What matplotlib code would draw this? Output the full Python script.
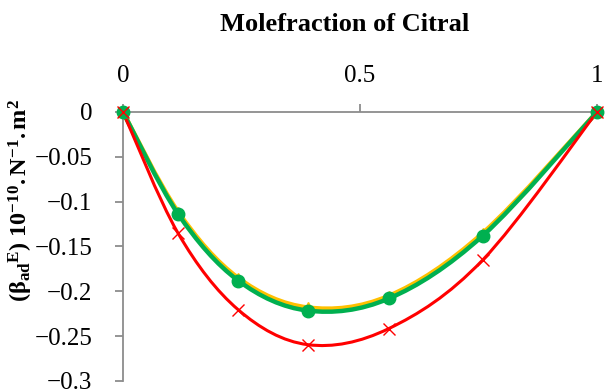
import numpy as np
import matplotlib
matplotlib.use("Agg")
from matplotlib import pyplot as plt
from matplotlib.path import Path
from matplotlib.patches import PathPatch

plt.rcParams["font.family"] = "Liberation Serif"
plt.rcParams["mathtext.fontset"] = "custom"
plt.rcParams["mathtext.rm"] = "Liberation Serif"
plt.rcParams["mathtext.bf"] = "Liberation Serif:bold"
plt.rcParams["mathtext.it"] = "Liberation Serif:italic"

# mole fraction of citral
x_frac = [0.0, 0.116, 0.243, 0.390, 0.561, 0.759, 1.0]

# excess adiabatic compressibility, three temperatures
beta_yellow = [0.0, -0.111, -0.185, -0.218, -0.205, -0.135, 0.0]
beta_green = [0.0, -0.1135, -0.188, -0.2215, -0.208, -0.138, 0.0]
beta_red = [0.0, -0.135, -0.2205, -0.2595, -0.2415, -0.165, 0.0]

x_ticks = [0, 0.5, 1]
x_tick_labels = ["0", "0.5", "1"]
y_ticks = [0, -0.05, -0.1, -0.15, -0.2, -0.25, -0.3]
y_tick_labels = ["0", "\u22120.05", "\u22120.1", "\u22120.15", "\u22120.2",
                 "\u22120.25", "\u22120.3"]


def smooth_path(xs, ys):
    # bezier segments through every point, like a spreadsheet's smoothed line
    p = np.column_stack([xs, ys])
    n = len(p)
    verts = [p[0]]
    codes = [Path.MOVETO]
    for i in range(n - 1):
        p0 = p[i - 1] if i > 0 else p[i]
        p3 = p[i + 2] if i + 2 < n else p[i + 1]
        c1 = p[i] + (p[i + 1] - p0) / 6.0
        c2 = p[i + 1] - (p3 - p[i]) / 6.0
        verts += [c1, c2, p[i + 1]]
        codes += [Path.CURVE4] * 3
    return Path(verts, codes)


fig = plt.figure(figsize=(6.07, 3.89), dpi=100)
ax = fig.add_axes([0.2026, 0.0206, 0.7809, 0.6915])

series = [
    (beta_yellow, "#FFC000", 3.2, "^", 7, 1.0),
    (beta_green, "#00B050", 3.2, "o", 9, 1.0),
    (beta_red, "#FF0000", 2.2, "x", 8, 1.0),
]
for ys, color, lw, marker, ms, mew in series:
    ax.add_patch(PathPatch(smooth_path(x_frac, ys), facecolor="none",
                           edgecolor=color, lw=lw, capstyle="round", zorder=2))
    ax.plot(x_frac, ys, linestyle="none", marker=marker, color=color,
            markersize=ms, markeredgewidth=mew, zorder=3, clip_on=False)

ax.set_xlim(0, 1)
ax.set_ylim(-0.3, 0)

for side in ["right", "bottom"]:
    ax.spines[side].set_visible(False)
for side in ["left", "top"]:
    ax.spines[side].set_color("#8C8C8C")
    ax.spines[side].set_linewidth(1.3)

ax.xaxis.tick_top()
ax.set_xticks(x_ticks)
ax.set_xticklabels(x_tick_labels)
ax.set_yticks(y_ticks)
ax.set_yticklabels(y_tick_labels)
ax.tick_params(axis="both", direction="out", length=6, width=1.3,
               color="#8C8C8C", labelsize=18)
ax.tick_params(axis="y", pad=16)
ax.tick_params(axis="x", pad=12)

ax.set_ylabel(r"$\mathbf{(\beta_{ad}{}^{E})\ 10^{-10}.N^{-1}.m^{2}}$",
              fontsize=17.5)
ax.yaxis.set_label_coords(-0.186, 0.67)

fig.text(0.5675, 0.936, "Molefraction of Citral", ha="center", va="center",
         fontsize=19, fontweight="bold")

fig.savefig("out.png", dpi=100)
